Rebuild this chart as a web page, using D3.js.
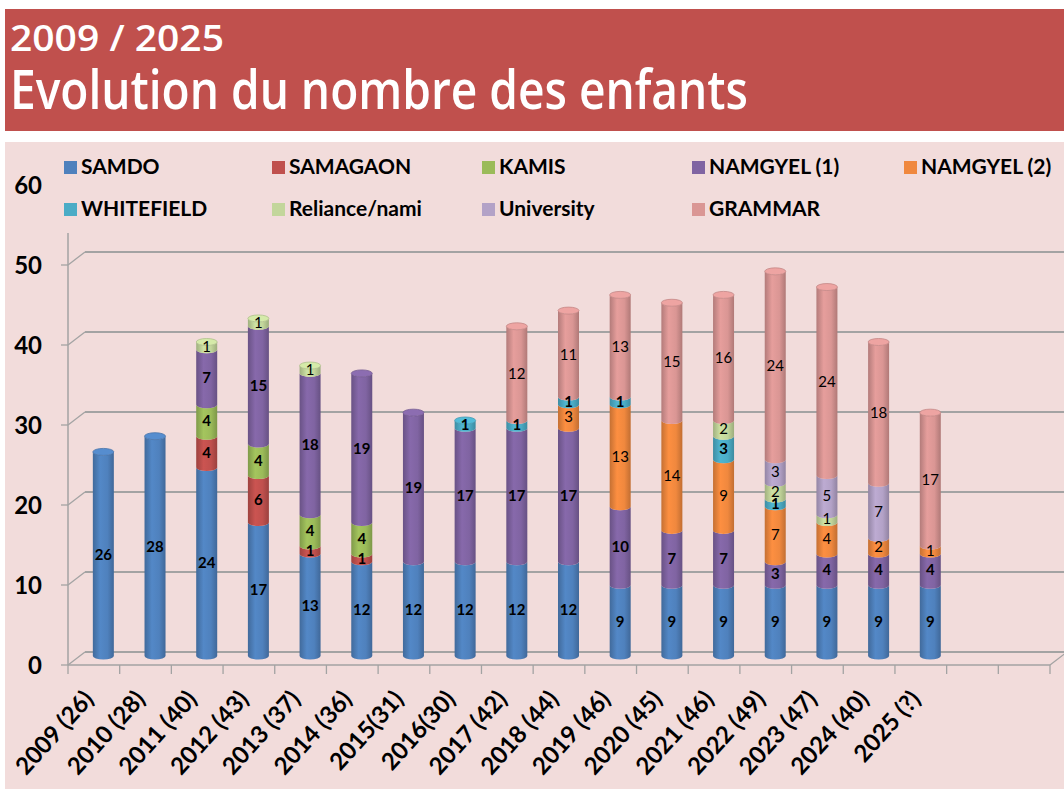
<!DOCTYPE html>
<html>
<head>
<meta charset="utf-8">
<script src="https://cdn.jsdelivr.net/npm/d3@7"></script>
<style>
  html, body { margin: 0; padding: 0; background: #ffffff; }
  svg { display: block; }
</style>
</head>
<body>
<svg id="chart" width="1064" height="789"></svg>
<script>
// ---------- DATA ----------
const titleLine1 = "2009 / 2025";
const titleLine2 = "Evolution du nombre des enfants";

const categories = ["2009 (26)", "2010 (28)", "2011 (40)", "2012 (43)", "2013 (37)", "2014 (36)",
  "2015(31)", "2016(30)", "2017 (42)", "2018 (44)", "2019 (46)", "2020 (45)", "2021 (46)",
  "2022 (49)", "2023 (47)", "2024 (40)", "2025 (?)"];
const emptySlots = ["", ""];   // two empty category slots at the right end of the axis

const seriesNames = ["SAMDO", "SAMAGAON", "KAMIS", "NAMGYEL (1)", "NAMGYEL (2)",
  "WHITEFIELD", "Reliance/nami", "University", "GRAMMAR"];
const seriesColors = ["#4F81BD", "#C0504D", "#9BBB59", "#8064A2", "#F0883E",
  "#4BACC6", "#C3D69B", "#B3A2C7", "#DA9694"];
const seriesBold = [true, true, true, true, false, true, false, false, false];

const samdo      = [26, 28, 24, 17, 13, 12, 12, 12, 12, 12,  9,  9,  9,  9,  9,  9,  9];
const samagaon   = [ 0,  0,  4,  6,  1,  1,  0,  0,  0,  0,  0,  0,  0,  0,  0,  0,  0];
const kamis      = [ 0,  0,  4,  4,  4,  4,  0,  0,  0,  0,  0,  0,  0,  0,  0,  0,  0];
const namgyel1   = [ 0,  0,  7, 15, 18, 19, 19, 17, 17, 17, 10,  7,  7,  3,  4,  4,  4];
const namgyel2   = [ 0,  0,  0,  0,  0,  0,  0,  0,  0,  3, 13, 14,  9,  7,  4,  2,  1];
const whitefield = [ 0,  0,  0,  0,  0,  0,  0,  1,  1,  1,  1,  0,  3,  1,  0,  0,  0];
const reliance   = [ 0,  0,  1,  1,  1,  0,  0,  0,  0,  0,  0,  0,  2,  2,  1,  0,  0];
const university = [ 0,  0,  0,  0,  0,  0,  0,  0,  0,  0,  0,  0,  0,  3,  5,  7,  0];
const grammar    = [ 0,  0,  0,  0,  0,  0,  0,  0, 12, 11, 13, 15, 16, 24, 24, 18, 17];

const yTicks = [0, 10, 20, 30, 40, 50, 60];
const gridValues = [0, 10, 20, 30, 40, 50];

// ---------- BUILD TABLE ----------
const seriesValues = [samdo, samagaon, kamis, namgyel1, namgyel2, whitefield, reliance, university, grammar];
const table = categories.map((c, i) => {
  const row = { cat: c, idx: i };
  seriesNames.forEach((s, k) => row[s] = seriesValues[k][i]);
  return row;
});
const slotKeys = categories.map((c, i) => "c" + i).concat(emptySlots.map((e, i) => "e" + i));
const slotLabels = categories.concat(emptySlots);

// ---------- SVG ----------
const svg = d3.select("#chart");
const W = 1064, H = 789;

// Header band
svg.append("rect").attr("x", 5).attr("y", 9).attr("width", W - 5).attr("height", 122).attr("fill", "#C0504D");
svg.append("text").text(titleLine1)
  .attr("x", 10).attr("y", 51)
  .attr("font-family", "'Open Sans', 'DejaVu Sans', sans-serif").attr("font-weight", 600)
  .attr("font-size", 36).attr("fill", "#ffffff")
  .attr("textLength", 214).attr("lengthAdjust", "spacingAndGlyphs");
svg.append("text").text(titleLine2)
  .attr("x", 10).attr("y", 109)
  .attr("font-family", "'Open Sans', 'DejaVu Sans', sans-serif").attr("font-weight", 600)
  .attr("font-size", 54).attr("fill", "#ffffff")
  .attr("textLength", 738).attr("lengthAdjust", "spacingAndGlyphs");

// Chart background
svg.append("rect").attr("x", 5).attr("y", 142).attr("width", W - 5).attr("height", H - 142).attr("fill", "#F2DCDB");

// ---------- SCALES ----------
const x = d3.scaleBand().domain(slotKeys).range([68, 1050]).paddingInner(0).paddingOuter(0);
const y = d3.scaleLinear().domain([0, 60]).range([665, 185]);          // front plane
const depthX = 17, depthY = -13;                                          // back-wall offset
const yBar = d3.scaleLinear().domain([0, 60]).range([656, 185]);        // mid-depth plane of the bars
const barOffsetX = 9.5;
const barW = 21, ry = 3.5;

const g = svg.append("g");
const gridColor = "#A3A3A3";

// Gridlines on back wall with the diagonal link to the axis
gridValues.forEach(v => {
  const yf = y(v), yb = y(v) + depthY;
  g.append("line").attr("x1", 68 + depthX).attr("x2", W).attr("y1", yb).attr("y2", yb)
    .attr("stroke", gridColor).attr("stroke-width", 1.8);
  g.append("line").attr("x1", 68).attr("x2", 68 + depthX).attr("y1", yf).attr("y2", yb)
    .attr("stroke", gridColor).attr("stroke-width", 1.3);
  g.append("line").attr("x1", 61).attr("x2", 68).attr("y1", yf).attr("y2", yf)
    .attr("stroke", gridColor).attr("stroke-width", 1.3);
});
// vertical axis line
g.append("line").attr("x1", 68).attr("x2", 68).attr("y1", 233).attr("y2", y(0))
  .attr("stroke", gridColor).attr("stroke-width", 1.5);
// floor front edge and right edge
g.append("line").attr("x1", 68).attr("x2", 1050).attr("y1", y(0)).attr("y2", y(0))
  .attr("stroke", gridColor).attr("stroke-width", 1.5);
g.append("line").attr("x1", 1050).attr("x2", 1050 + depthX).attr("y1", y(0)).attr("y2", y(0) + depthY)
  .attr("stroke", gridColor).attr("stroke-width", 1.3);
// category ticks
slotKeys.concat(["end"]).forEach((k, i) => {
  const xx = i < slotKeys.length ? x(k) : 1050;
  g.append("line").attr("x1", xx).attr("x2", xx).attr("y1", y(0)).attr("y2", y(0) + 9)
    .attr("stroke", gridColor).attr("stroke-width", 1.3);
});

// Y tick labels
g.selectAll(".ylab").data(yTicks).join("text")
  .attr("x", 42).attr("y", d => y(d) + 3)
  .attr("text-anchor", "end").attr("dominant-baseline", "middle")
  .attr("font-family", "Lato, 'Open Sans', sans-serif").attr("font-weight", "bold")
  .attr("font-size", 24).attr("fill", "#000")
  .text(d => d);

// X labels
g.selectAll(".xlab").data(slotKeys).join("text")
  .attr("transform", d => `translate(${x(d) + x.bandwidth() / 2 + 1},700) rotate(-48)`)
  .attr("text-anchor", "end")
  .attr("font-family", "Lato, 'Open Sans', sans-serif").attr("font-weight", "bold")
  .attr("font-size", 24).attr("fill", "#000")
  .text((d, i) => slotLabels[i]);

// ---------- GRADIENTS ----------
const defs = svg.append("defs");
seriesColors.forEach((c, k) => {
  const base = d3.color(c);
  const grad = defs.append("linearGradient").attr("id", "grad" + k)
    .attr("x1", "0%").attr("x2", "100%").attr("y1", "0%").attr("y2", "0%");
  grad.append("stop").attr("offset", "0%").attr("stop-color", base.darker(0.55));
  grad.append("stop").attr("offset", "35%").attr("stop-color", base.brighter(0.15));
  grad.append("stop").attr("offset", "70%").attr("stop-color", base);
  grad.append("stop").attr("offset", "100%").attr("stop-color", base.darker(0.6));
});

// ---------- STACKED CYLINDERS ----------
const stack = d3.stack().keys(seriesNames);
const stacked = stack(table);

const bars = svg.append("g");
const labels = svg.append("g");

function segPath(cx, y0, y1) {
  const x0 = cx - barW / 2, x1 = cx + barW / 2, rx = barW / 2;
  return `M${x0},${y1} L${x0},${y0} A${rx},${ry} 0 0 0 ${x1},${y0} L${x1},${y1} A${rx},${ry} 0 0 1 ${x0},${y1} Z`;
}

stacked.forEach((layer, k) => {
  layer.forEach((d, i) => {
    const v = d[1] - d[0];
    if (!v) return;
    const cx = x(slotKeys[i]) + x.bandwidth() / 2 + barOffsetX;
    const y0 = yBar(d[0]), y1 = yBar(d[1]);
    bars.append("path").attr("d", segPath(cx, y0, y1)).attr("fill", `url(#grad${k})`);
    labels.append("text")
      .attr("x", cx).attr("y", (y0 + y1) / 2 + 2)
      .attr("text-anchor", "middle").attr("dominant-baseline", "middle")
      .attr("font-family", "Lato, 'Open Sans', sans-serif")
      .attr("font-weight", seriesBold[k] ? "bold" : "normal")
      .attr("font-size", 15).attr("fill", "#000")
      .text(v);
  });
});

// top caps
table.forEach((row, i) => {
  let topK = -1, total = 0;
  seriesNames.forEach((s, k) => { if (row[s] > 0) { topK = k; total += row[s]; } });
  if (topK < 0) return;
  const cx = x(slotKeys[i]) + x.bandwidth() / 2 + barOffsetX;
  const c = d3.color(seriesColors[topK]);
  bars.append("ellipse").attr("cx", cx).attr("cy", yBar(total))
    .attr("rx", barW / 2).attr("ry", ry)
    .attr("fill", c.brighter(0.25)).attr("stroke", c.darker(0.3)).attr("stroke-width", 0.8);
});

// ---------- LEGEND ----------
const legendPos = [[64, 168], [272, 168], [482, 168], [692, 168], [904, 168],
                   [64, 210], [272, 210], [482, 210], [692, 210]];
const leg = svg.append("g");
seriesNames.forEach((s, k) => {
  const [lx, ly] = legendPos[k];
  leg.append("rect").attr("x", lx).attr("y", ly - 7).attr("width", 13).attr("height", 13)
    .attr("fill", seriesColors[k]);
  leg.append("text").attr("x", lx + 17).attr("y", ly + 1)
    .attr("dominant-baseline", "middle")
    .attr("font-family", "Lato, 'Open Sans', sans-serif").attr("font-weight", "bold")
    .attr("font-size", 21).attr("fill", "#000")
    .text(s);
});
</script>
</body>
</html>
